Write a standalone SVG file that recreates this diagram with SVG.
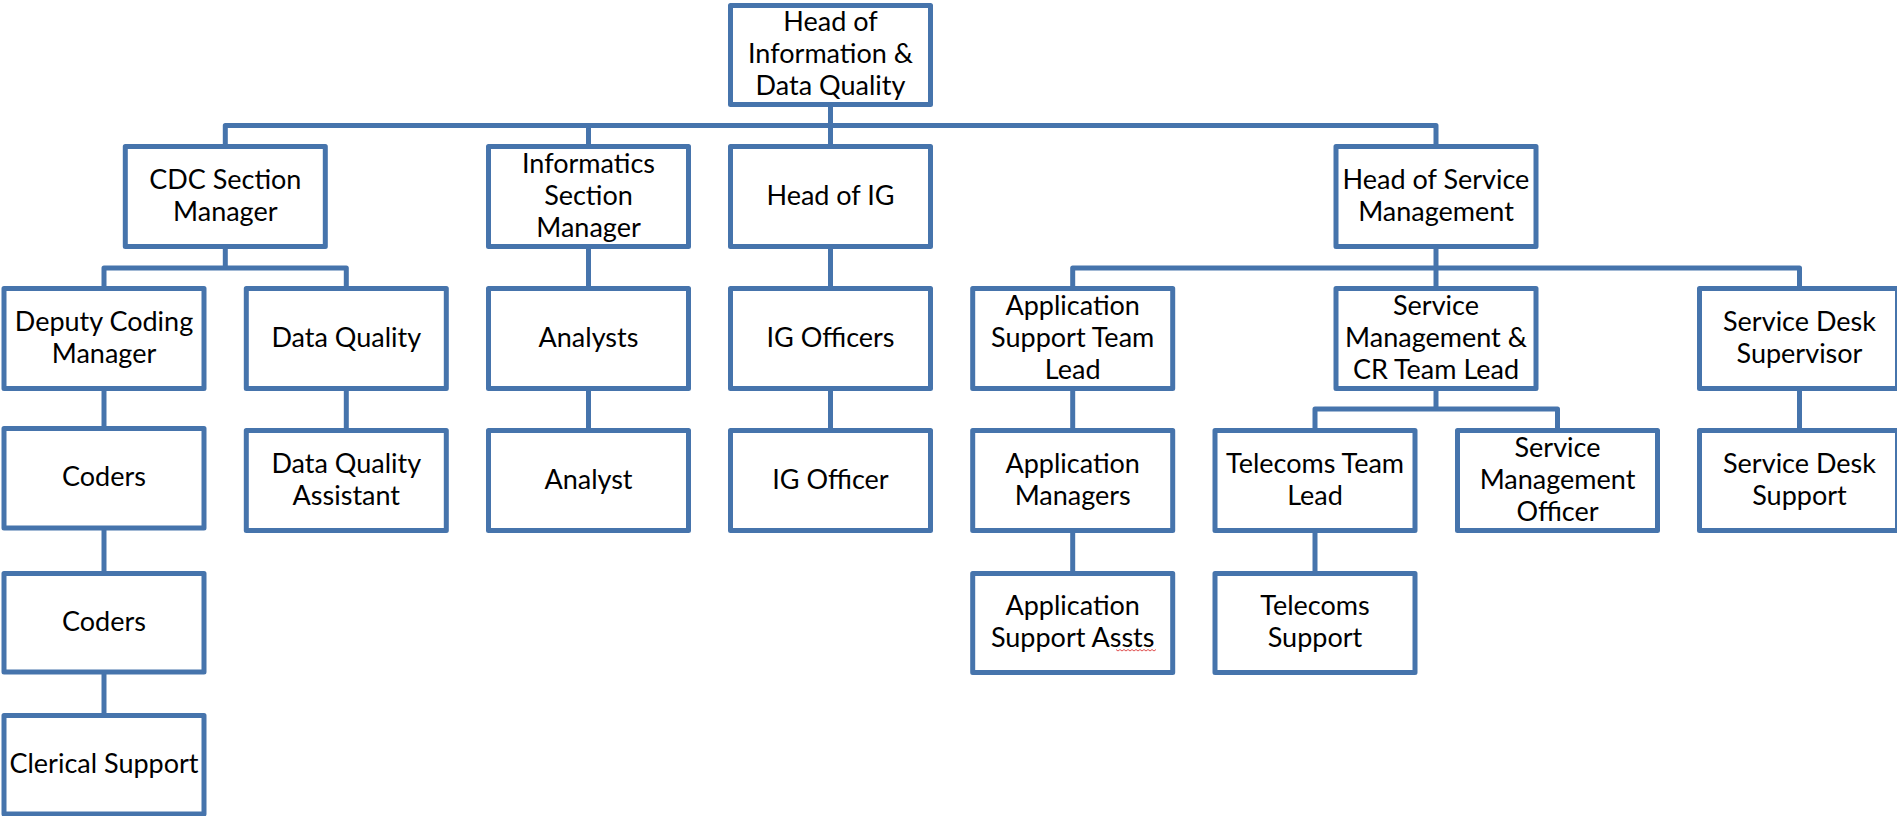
<svg xmlns="http://www.w3.org/2000/svg" width="1897" height="816" viewBox="0 0 1897 816">
<style>
.box{fill:#fff;stroke:#4674ac;stroke-width:5;stroke-linejoin:round}
.conn{fill:none;stroke:#4674ac;stroke-width:5;stroke-linejoin:round}
text{font-family:Lato,"Liberation Sans",sans-serif;font-size:27px;fill:#000;text-anchor:middle}
.squig{fill:none;stroke:#e05050;stroke-width:1}
</style>
<rect width="1897" height="816" fill="#fff"/>
<g id="connectors">
<path class="conn" d="M830.5,104.5V125.5"/>
<path class="conn" d="M225.3,146.5V125.5H1436V146.5"/>
<path class="conn" d="M588.5,125.5V146.5"/>
<path class="conn" d="M830.5,125.5V146.5"/>
<path class="conn" d="M225.3,246.5V268"/>
<path class="conn" d="M104,288.5V268H346.3V288.5"/>
<path class="conn" d="M588.5,246.5V288.5"/>
<path class="conn" d="M830.5,246.5V288.5"/>
<path class="conn" d="M1436,246.5V288.5"/>
<path class="conn" d="M1072.7,288.5V268H1799.5V288.5"/>
<path class="conn" d="M104,388.5V428.5"/>
<path class="conn" d="M346.3,388.5V430.5"/>
<path class="conn" d="M588.5,388.5V430.5"/>
<path class="conn" d="M830.5,388.5V430.5"/>
<path class="conn" d="M1072.7,388.5V430.5"/>
<path class="conn" d="M1799.5,388.5V430.5"/>
<path class="conn" d="M1436,388.5V409"/>
<path class="conn" d="M1315,430.5V409H1557.5V430.5"/>
<path class="conn" d="M104,528V573.5"/>
<path class="conn" d="M1072.7,530.5V573.5"/>
<path class="conn" d="M1315,530.5V573.5"/>
<path class="conn" d="M104,672V715.5"/>
</g>
<g id="root"><rect class="box" x="730.5" y="5.5" width="200" height="99"/><text><tspan x="830.5" y="31">Head of</tspan><tspan x="830.5" y="63">Information &amp;</tspan><tspan x="830.5" y="95">Data Quality</tspan></text></g>
<g id="cdc"><rect class="box" x="125.3" y="146.5" width="200" height="100"/><text><tspan x="225.3" y="188.5">CDC Section</tspan><tspan x="225.3" y="220.5">Manager</tspan></text></g>
<g id="informatics"><rect class="box" x="488.5" y="146.5" width="200" height="100"/><text><tspan x="588.5" y="172.5">Informatics</tspan><tspan x="588.5" y="204.5">Section</tspan><tspan x="588.5" y="236.5">Manager</tspan></text></g>
<g id="head-ig"><rect class="box" x="730.5" y="146.5" width="200" height="100"/><text x="830.5" y="204.5">Head of IG</text></g>
<g id="head-sm"><rect class="box" x="1336" y="146.5" width="200" height="100"/><text><tspan x="1436" y="188.5">Head of Service</tspan><tspan x="1436" y="220.5">Management</tspan></text></g>
<g id="deputy"><rect class="box" x="4" y="288.5" width="200" height="100"/><text><tspan x="104" y="330.5">Deputy Coding</tspan><tspan x="104" y="362.5">Manager</tspan></text></g>
<g id="dq"><rect class="box" x="246.3" y="288.5" width="200" height="100"/><text x="346.3" y="346.5">Data Quality</text></g>
<g id="analysts"><rect class="box" x="488.5" y="288.5" width="200" height="100"/><text x="588.5" y="346.5">Analysts</text></g>
<g id="ig-officers"><rect class="box" x="730.5" y="288.5" width="200" height="100"/><text x="830.5" y="346.5">IG Officers</text></g>
<g id="app-stl"><rect class="box" x="972.7" y="288.5" width="200" height="100"/><text><tspan x="1072.7" y="314.5">Application</tspan><tspan x="1072.7" y="346.5">Support Team</tspan><tspan x="1072.7" y="378.5">Lead</tspan></text></g>
<g id="sm-cr"><rect class="box" x="1336" y="288.5" width="200" height="100"/><text><tspan x="1436" y="314.5">Service</tspan><tspan x="1436" y="346.5">Management &amp;</tspan><tspan x="1436" y="378.5">CR Team Lead</tspan></text></g>
<g id="sds"><rect class="box" x="1699.5" y="288.5" width="198" height="100"/><text><tspan x="1799.5" y="330.5">Service Desk</tspan><tspan x="1799.5" y="362.5">Supervisor</tspan></text></g>
<g id="coders1"><rect class="box" x="4" y="428.5" width="200" height="99.5"/><text x="104" y="486">Coders</text></g>
<g id="dqa"><rect class="box" x="246.3" y="430.5" width="200" height="100"/><text><tspan x="346.3" y="472.5">Data Quality</tspan><tspan x="346.3" y="504.5">Assistant</tspan></text></g>
<g id="analyst"><rect class="box" x="488.5" y="430.5" width="200" height="100"/><text x="588.5" y="488.5">Analyst</text></g>
<g id="ig-officer"><rect class="box" x="730.5" y="430.5" width="200" height="100"/><text x="830.5" y="488.5">IG Officer</text></g>
<g id="app-managers"><rect class="box" x="972.7" y="430.5" width="200" height="100"/><text><tspan x="1072.7" y="472.5">Application</tspan><tspan x="1072.7" y="504.5">Managers</tspan></text></g>
<g id="telecoms-tl"><rect class="box" x="1215" y="430.5" width="200" height="100"/><text><tspan x="1315" y="472.5">Telecoms Team</tspan><tspan x="1315" y="504.5">Lead</tspan></text></g>
<g id="smo"><rect class="box" x="1457.5" y="430.5" width="200" height="100"/><text><tspan x="1557.5" y="456.5">Service</tspan><tspan x="1557.5" y="488.5">Management</tspan><tspan x="1557.5" y="520.5">Officer</tspan></text></g>
<g id="sds-support"><rect class="box" x="1699.5" y="430.5" width="198" height="100"/><text><tspan x="1799.5" y="472.5">Service Desk</tspan><tspan x="1799.5" y="504.5">Support</tspan></text></g>
<g id="coders2"><rect class="box" x="4" y="573.5" width="200" height="98.5"/><text x="104" y="631">Coders</text></g>
<g id="app-assts"><rect class="box" x="972.7" y="573.5" width="200" height="99"/><text><tspan x="1072.7" y="615">Application</tspan><tspan x="1072.7" y="647">Support Assts</tspan></text><path class="squig" d="M1116,649.5l2,1.5l2,-1.5l2,1.5l2,-1.5l2,1.5l2,-1.5l2,1.5l2,-1.5l2,1.5l2,-1.5l2,1.5l2,-1.5l2,1.5l2,-1.5l2,1.5l2,-1.5l2,1.5l2,-1.5l2,1.5l2,-1.5"/></g>
<g id="telecoms-support"><rect class="box" x="1215" y="573.5" width="200" height="99"/><text><tspan x="1315" y="615">Telecoms</tspan><tspan x="1315" y="647">Support</tspan></text></g>
<g id="clerical"><rect class="box" x="4" y="715.5" width="200" height="98.5"/><text x="104" y="772.5">Clerical Support</text></g>
</svg>
